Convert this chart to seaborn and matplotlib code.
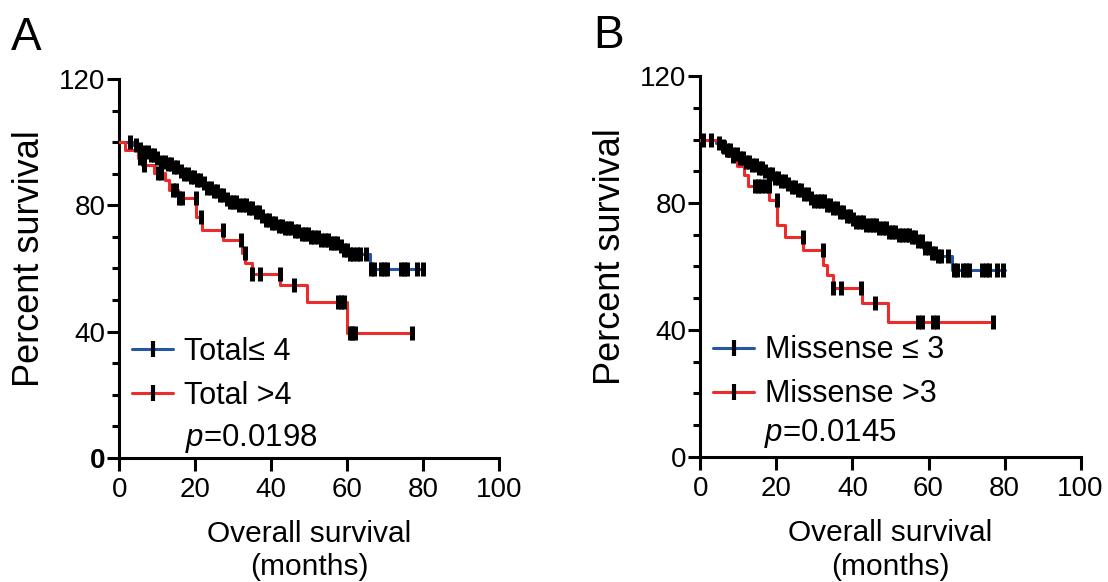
import numpy as np
import pandas as pd
import matplotlib
matplotlib.use("Agg")
import matplotlib.pyplot as plt
from matplotlib.lines import Line2D
from matplotlib.ticker import MultipleLocator
import seaborn as sns

# ---------------- data ----------------
# Panel A : Total <= 4  (blue)
a_low_times = [3.5, 5.0, 6.5, 8.0, 9.5, 11.0, 12.5, 14.0, 15.5, 17.0, 18.5, 20.0,
               21.5, 23.0, 24.5, 26.0, 27.5, 29.0, 31.0, 34.0, 35.5, 37.0, 38.5,
               40.0, 41.5, 43.0, 46.0, 48.0, 50.0, 53.0, 55.5, 57.5, 59.0, 60.5, 66.0]
a_low_surv = [99.0, 97.8, 97.0, 96.0, 95.0, 93.6, 93.0, 92.0, 91.0, 90.0, 89.0, 88.0,
              87.0, 85.5, 84.5, 83.3, 82.0, 81.0, 80.0, 79.0, 78.0, 76.5, 75.5,
              74.5, 73.5, 72.8, 72.0, 71.0, 70.0, 69.0, 68.0, 67.0, 66.0, 64.5, 59.8]
a_low_end = 80.0
a_low_cens = [2.8, 4.5, 5.5, 6.5, 7.5, 8.3, 9.2, 10.0, 11.0, 12.0, 12.8, 13.6, 14.5,
              15.3, 16.2, 17.0, 18.0, 18.8, 19.6, 20.5, 21.3, 22.2, 23.0, 24.0, 24.8,
              25.6, 26.5, 27.3, 28.2, 29.0, 30.0, 30.8, 31.6, 32.5, 33.3, 34.2, 35.0,
              36.0, 36.8, 37.6, 38.5, 39.3, 40.2, 41.0, 42.0, 42.8, 43.6, 44.5, 45.3,
              46.2, 47.0, 48.0, 48.8, 49.6, 50.5, 51.3, 52.2, 53.0, 54.0, 54.8, 55.6,
              56.5, 57.3, 58.2, 59.0, 60.0, 60.8, 61.6, 62.5, 63.2, 64.9, 66.3, 67.0,
              68.8, 69.6, 70.4, 74.2, 75.0, 75.8, 78.2, 80.0]

# Panel A : Total > 4  (red)
a_high_times = [1.5, 5.0, 6.0, 9.0, 12.0, 13.0, 15.5, 20.2, 21.7, 27.4, 32.2, 33.1,
                34.8, 42.3, 49.3, 60.0]
a_high_surv = [97.6, 95.0, 92.7, 90.1, 87.9, 84.8, 82.2, 76.4, 72.2, 68.9, 64.9, 61.8,
               58.4, 54.7, 49.4, 39.7]
a_high_end = 76.9
a_high_cens = [5.5, 6.5, 10.3, 11.0, 14.0, 14.8, 15.6, 16.5, 20.1, 21.6, 27.3, 32.1,
               33.0, 34.8, 37.0, 42.2, 46.0, 57.6, 58.3, 59.0, 60.6, 61.3, 62.0, 76.9]

# Panel B : Missense <= 3  (blue)
b_low_times = [4.0, 5.5, 6.5, 8.0, 10.0, 11.5, 13.0, 14.8, 16.5, 18.0, 19.5, 21.0,
               22.5, 24.0, 25.5, 27.0, 28.5, 30.0, 33.0, 35.0, 36.5, 38.0, 39.5, 41.0,
               43.0, 47.0, 49.5, 52.0, 55.0, 57.0, 58.5, 60.5, 62.0, 66.1]
b_low_surv = [99.0, 98.0, 96.7, 95.5, 94.1, 93.0, 92.0, 90.9, 90.0, 89.0, 88.0, 87.0,
              86.0, 85.0, 84.0, 82.8, 81.5, 80.5, 79.5, 78.5, 77.3, 76.0, 75.0, 74.0,
              73.1, 72.0, 71.0, 70.0, 69.4, 68.0, 65.7, 64.2, 63.2, 58.9]
b_low_end = 80.0
b_low_cens = [0.7, 2.9, 5.0, 6.0, 7.0, 7.8, 8.6, 9.5, 10.3, 11.2, 12.0, 12.8, 13.6,
              14.5, 15.3, 16.2, 17.0, 18.0, 18.8, 19.6, 20.5, 21.3, 22.2, 23.0, 24.0,
              24.8, 25.6, 26.5, 27.3, 28.2, 29.0, 30.0, 30.8, 31.6, 32.5, 33.3, 34.2,
              35.0, 36.0, 36.8, 37.6, 38.5, 39.3, 40.2, 41.0, 42.0, 42.8, 43.6, 44.5,
              45.3, 46.2, 47.0, 48.0, 48.8, 49.6, 50.5, 51.3, 52.2, 53.0, 54.0, 54.8,
              55.6, 56.5, 57.3, 58.2, 59.0, 60.0, 60.8, 61.6, 62.5, 63.2, 65.0, 66.8,
              67.4, 69.0, 69.8, 70.6, 74.2, 75.0, 75.8, 77.9, 79.7]

# Panel B : Missense > 3  (red)
b_high_times = [5.0, 7.0, 9.5, 11.5, 12.5, 18.0, 20.2, 22.2, 27.1, 32.3, 33.2, 34.9,
                42.4, 49.4]
b_high_surv = [97.5, 94.7, 91.5, 88.8, 85.2, 81.0, 73.1, 69.4, 65.2, 60.5, 57.3, 53.1,
               48.4, 42.6]
b_high_end = 77.1
b_high_cens = [6.3, 8.5, 14.3, 15.2, 16.0, 17.0, 17.9, 20.1, 27.0, 32.2, 35.0, 37.1,
               42.3, 46.0, 57.2, 58.2, 61.2, 62.2, 77.1]

labels_A = ["Total\u2264 4", "Total >4"]
labels_B = ["Missense \u2264 3", "Missense >3"]
pvals = ["0.0198", "0.0145"]
x_ticks = [0, 20, 40, 60, 80, 100]
y_ticks = [0, 40, 80, 120]

BLUE = "#2456a6"
RED = "#ee2b2b"

# ---------------- style ----------------
sns.set_style("ticks")
plt.rcParams["font.family"] = ["Liberation Sans", "DejaVu Sans"]
plt.rcParams["mathtext.fontset"] = "custom"
plt.rcParams["mathtext.it"] = "Liberation Sans:italic"
plt.rcParams["mathtext.rm"] = "Liberation Sans"
plt.rcParams["axes.linewidth"] = 2.2
for k in ("text.color", "axes.labelcolor", "xtick.color", "ytick.color",
          "axes.edgecolor"):
    plt.rcParams[k] = "black"

LW = 2.2


def step_frame(times, surv, end):
    t = [0.0] + list(times) + [end]
    s = [100.0] + list(surv) + [surv[-1]]
    return pd.DataFrame({"t": t, "s": s})


def cens_frame(times, surv, cens):
    levels = np.array([100.0] + list(surv))
    idx = np.searchsorted(np.array(times), np.array(cens), side="right")
    return pd.DataFrame({"t": cens, "s": levels[idx]})


def draw_panel(ax, low, high, labels, pval, ptext_xy, bold_zero):
    for (times, surv, end, cens), col in ((low, BLUE), (high, RED)):
        df = step_frame(times, surv, end)
        sns.lineplot(data=df, x="t", y="s", drawstyle="steps-post", estimator=None,
                     sort=False, color=col, linewidth=LW, ax=ax, zorder=3)
    for (times, surv, end, cens), col in ((low, BLUE), (high, RED)):
        cf = cens_frame(times, surv, cens)
        sns.lineplot(data=cf, x="t", y="s", estimator=None, sort=False,
                     linestyle="", marker="|", markersize=9.5,
                     markeredgewidth=3.6, markeredgecolor="black", color="black",
                     ax=ax, zorder=4)

    ax.set_xlim(0, 100)
    ax.set_ylim(0, 120)
    sns.despine(ax=ax)
    for sp in ("left", "bottom"):
        ax.spines[sp].set_linewidth(LW)
        ax.spines[sp].set_color("black")
    ax.set_xticks(x_ticks)
    ax.set_yticks(y_ticks)
    ax.yaxis.set_minor_locator(MultipleLocator(10))
    ax.tick_params(axis="x", length=9, width=LW, labelsize=20, pad=5,
                   color="black", labelcolor="black")
    ax.tick_params(axis="y", which="major", length=8.5, width=LW, labelsize=20,
                   pad=1.5, color="black", labelcolor="black")
    ax.tick_params(axis="y", which="minor", length=5, width=LW, color="black")
    if bold_zero:
        ax.yaxis.get_major_ticks()[0].label1.set_fontweight("bold")

    ax.set_ylabel("Percent survival", fontsize=26, va="center", color="black")
    ax.yaxis.set_label_coords(-0.236, 0.527)
    ax.set_xlabel("Overall survival\n(months)", fontsize=21.5, va="top",
                  linespacing=1.25, color="black")
    ax.xaxis.set_label_coords(0.5, -0.163)

    handles = [Line2D([0], [0], color=c, lw=LW, marker="|", markersize=11,
                      markeredgecolor="black", markeredgewidth=3.0)
               for c in (BLUE, RED)]
    leg = ax.legend(handles, labels, loc="upper left", bbox_to_anchor=(0.034, 0.319),
                    frameon=False, fontsize=22, handlelength=1.34,
                    handletextpad=0.36, labelspacing=0.45, borderpad=0,
                    borderaxespad=0, numpoints=1)
    for t in leg.get_texts():
        t.set_color("black")
    ax.text(ptext_xy[0], ptext_xy[1], "$p$=" + pval, transform=ax.transAxes,
            fontsize=22.5, ha="left", va="baseline", color="black")


fig = plt.figure(figsize=(11.08, 5.82), dpi=100)
axA = fig.add_axes([0.1077, 0.2131, 0.3430, 0.6512])
axB = fig.add_axes([0.6322, 0.2148, 0.3430, 0.6546])

draw_panel(axA, (a_low_times, a_low_surv, a_low_end, a_low_cens),
           (a_high_times, a_high_surv, a_high_end, a_high_cens),
           labels_A, pvals[0], (0.173, 0.032), True)
draw_panel(axB, (b_low_times, b_low_surv, b_low_end, b_low_cens),
           (b_high_times, b_high_surv, b_high_end, b_high_cens),
           labels_B, pvals[1], (0.167, 0.043), False)

fig.text(0.0099, 1 - 50 / 582, "A", fontsize=33, ha="left", va="baseline",
         color="black")
fig.text(0.535, 1 - 48 / 582, "B", fontsize=33, ha="left", va="baseline",
         color="black")

fig.savefig("out.png", dpi=100)
